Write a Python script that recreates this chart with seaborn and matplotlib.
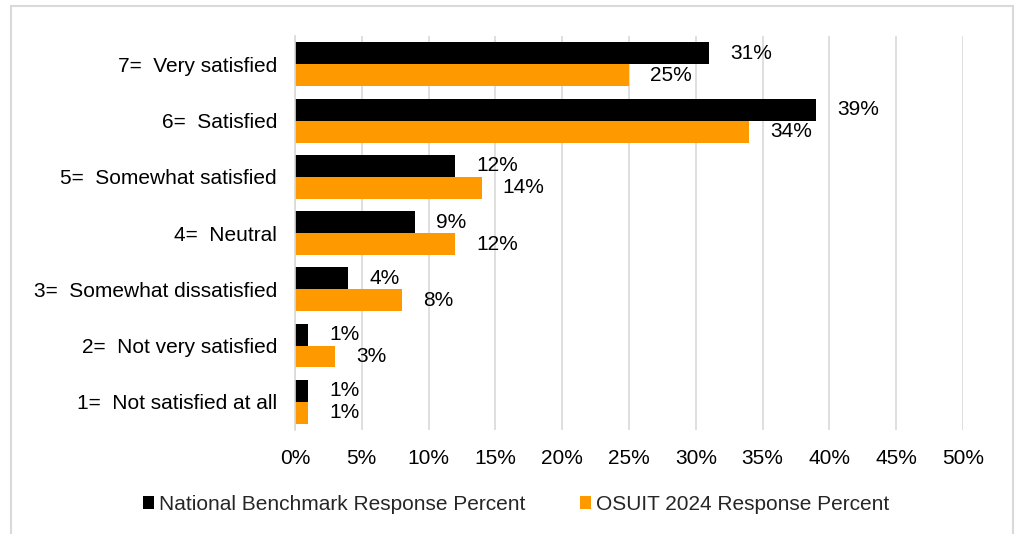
import matplotlib
matplotlib.use("Agg")
import matplotlib.pyplot as plt
from matplotlib.patches import Rectangle
import seaborn as sns
import pandas as pd

categories = [
    "7=  Very satisfied",
    "6=  Satisfied",
    "5=  Somewhat satisfied",
    "4=  Neutral",
    "3=  Somewhat dissatisfied",
    "2=  Not very satisfied",
    "1=  Not satisfied at all",
]
series_names = ["National Benchmark Response Percent", "OSUIT 2024 Response Percent"]
national = [31, 39, 12, 9, 4, 1, 1]
osuit = [25, 34, 14, 12, 8, 3, 1]
x_ticks = [0, 5, 10, 15, 20, 25, 30, 35, 40, 45, 50]

df = pd.DataFrame({
    "category": categories * 2,
    "series": [series_names[0]] * len(categories) + [series_names[1]] * len(categories),
    "value": national + osuit,
})

sns.set_theme(style="white")
plt.rcParams["font.family"] = ["Liberation Sans", "DejaVu Sans"]
FS = 15

fig = plt.figure(figsize=(10.27, 5.34), dpi=100)
ax = fig.add_axes([0.2872, 0.195, 0.6505, 0.737])

palette = {series_names[0]: "#000000", series_names[1]: "#FF9900"}
sns.barplot(data=df, y="category", x="value", hue="series", orient="h",
            palette=palette, width=0.78, ax=ax, saturation=1, legend=True,
            linewidth=0)

for container in ax.containers:
    ax.bar_label(container, labels=[f"{v:.0f}%" for v in container.datavalues],
                 padding=15, fontsize=FS, color="#000000")

ax.set_xlim(0, 50)
ax.set_xticks(x_ticks)
ax.set_xticklabels([f"{t}%" for t in x_ticks], fontsize=FS, color="#000000")
ax.tick_params(axis="y", labelsize=FS, colors="#000000", length=0, pad=13)
ax.tick_params(axis="x", length=0, pad=14)
ax.set_xlabel("")
ax.set_ylabel("")
ax.xaxis.grid(True, color="#D9D9D9", linewidth=1.2)
ax.set_axisbelow(True)
for side in ["top", "right", "bottom"]:
    ax.spines[side].set_visible(False)
ax.spines["left"].set_color("#D9D9D9")
ax.spines["left"].set_linewidth(1.2)

handles, labels = ax.get_legend_handles_labels()
ax.get_legend().remove()
fig.legend(handles, labels, loc="center", bbox_to_anchor=(0.5024, 0.056),
           ncol=2, frameon=False, fontsize=FS, handlelength=0.55, handleheight=0.55,
           handletextpad=0.24, columnspacing=2.6)

# outer chart frame
fig.patches.append(Rectangle((0.0107, -0.05), 0.976, 1.039, transform=fig.transFigure,
                             fill=False, edgecolor="#D9D9D9", linewidth=1.5))

fig.savefig("out.png", dpi=100)
